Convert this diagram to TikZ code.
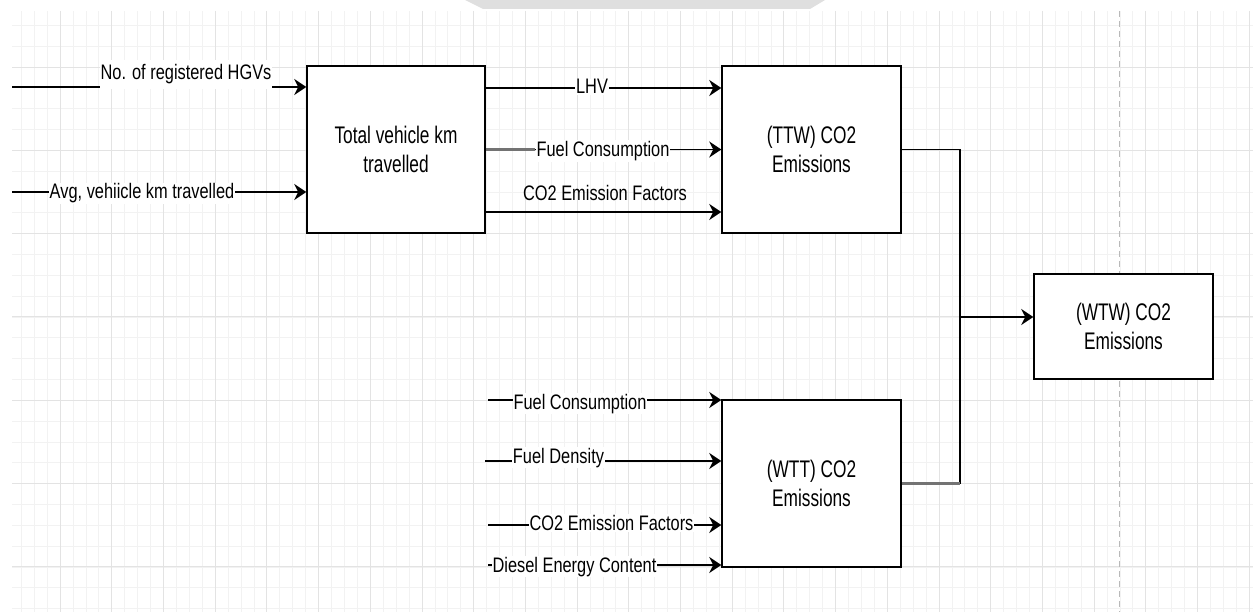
\documentclass[tikz,border=0pt]{standalone}
\usepackage{fontspec}
\setmainfont{Liberation Sans}
\newfontfamily\boxfont{Liberation Sans}[FakeStretch=0.72]
\newfontfamily\lblfont{Liberation Sans}[FakeStretch=0.78]
\usetikzlibrary{arrows.meta}
\tikzset{
  blk/.style={draw=black, line width=1.5pt, fill=white, align=center,
    font=\boxfont\fontsize{24}{29}\selectfont},
  lbl/.style={font=\lblfont\fontsize{21}{25}\selectfont, inner xsep=1pt, inner ysep=1pt, anchor=base},
  lblw/.style={lbl, fill=white},
  conn/.style={draw=black, line width=1.6pt, -{Stealth[length=12pt,width=16pt,inset=4pt]}},
  plainline/.style={draw=black, line width=1.6pt},
  grayseg/.style={draw=black!55, line width=2.2pt},
  gridminor/.style={draw=gray!10, line width=0.6pt},
  gridmajor/.style={draw=gray!22, line width=0.8pt},
}
\begin{document}
\begin{tikzpicture}[x=1pt,y=-1pt]
\useasboundingbox (0,0) rectangle (1253,612);
% faint band at top
\fill[gray!25] (465,0) -- (825,0) -- (810,9) -- (483,9) -- cycle;
% grid
\begin{scope}
\clip (12,11) rectangle (1253,612);
\foreach \i in {0,...,95} \draw[gridminor] ({21.2+12.925*\i},11) -- ({21.2+12.925*\i},612);
\foreach \j in {0,...,28} \draw[gridminor] (12,{25.3+20.83*\j}) -- (1253,{25.3+20.83*\j});
\foreach \i in {0,...,23} \draw[gridmajor] ({60+51.7*\i},11) -- ({60+51.7*\i},612);
\foreach \j in {0,...,6} \draw[gridmajor] (12,{67+83.3*\j}) -- (1253,{67+83.3*\j});
\end{scope}
\draw[gray!55, line width=0.9pt, dash pattern=on 6pt off 4pt] (1119,11) -- (1119,612);

% boxes
\node[blk, minimum width=178pt, minimum height=167pt] (b1) at (396,149.5) {Total vehicle km\\travelled};
\node[blk, minimum width=179pt, minimum height=167pt] (b2) at (811.5,149.5) {(TTW) CO2\\Emissions};
\node[blk, minimum width=179pt, minimum height=167pt] (b3) at (811.5,483.5) {(WTT) CO2\\Emissions};
\node[blk, minimum width=179pt, minimum height=105pt] (b4) at (1123.5,326.5) {(WTW) CO2\\Emissions};

% free ends and levels
\coordinate (s1) at (12,87);
\coordinate (s2) at (12,192);
\coordinate (yl) at (0,88);
\coordinate (yc) at (0,212);
\coordinate (t1) at (488,400);
\coordinate (t2) at (485,461);
\coordinate (t3) at (488,525);
\coordinate (t4) at (488,565);
\coordinate (J) at (960,317);

% connectors into box 1
\draw[conn] (s1) -- (b1.west |- s1);
\draw[conn] (s2) -- (b1.west |- s2);
% connectors box 1 -> box 2
\draw[conn] (b1.east |- yl) -- (b2.west |- yl);
\draw[conn] (b1.east) -- (b2.west);
\draw[conn] (b1.east |- yc) -- (b2.west |- yc);
% connectors into box 3
\draw[conn] (t1) -- (b3.west |- t1);
\draw[conn] (t2) -- (b3.west |- t2);
\draw[conn] (t3) -- (b3.west |- t3);
\draw[conn] (t4) -- (b3.west |- t4);
% to WTW
\draw[plainline] (b2.east) -| (J);
\draw[plainline] (b3.east) -| (J);
\draw[grayseg] (b3.east) -- (J |- b3.east);
\draw[conn] (J) -- (b4.west |- J);

% labels
\node[lblw, inner ysep=4.5pt] (l1) at (186,80) {No. of registered HGVs};
\node[lblw] (l2) at (142,199) {Avg, vehiicle km travelled};
\node[lblw] (l3) at (592,94) {LHV};
\node[lblw] (l4) at (603,156.5) {Fuel Consumption};
\draw[grayseg] (b1.east) -- (l4.west |- b1.east);
\node[lbl] (l5) at (605,200.5) {CO2 Emission Factors};
\node[lblw] (l6) at (580,409) {Fuel Consumption};
\node[lblw] (l7) at (558.5,463) {Fuel Density};
\node[lblw] (l8) at (611.5,530.5) {CO2 Emission Factors};
\node[lblw] (l9) at (574.5,572) {Diesel Energy Content};
\end{tikzpicture}
\end{document}
